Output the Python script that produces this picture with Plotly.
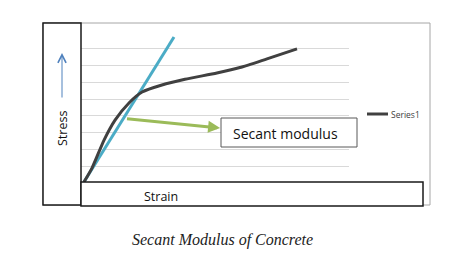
import plotly.graph_objects as go

# Stress-strain curve (arbitrary units)
strain = [0.11, 0.41, 0.86, 1.27, 1.79, 2.28, 3.02, 3.88, 5.07, 5.93, 6.94, 8.06]
stress = [0.06, 0.89, 2.56, 3.75, 4.77, 5.42, 5.84, 6.18, 6.56, 6.88, 7.40, 7.99]

# Secant modulus line
secant_x = [0.11, 3.47]
secant_y = [0.06, 8.70]

# Green pointer arrow (tail -> head)
pointer_tail = (1.66, 3.84)
pointer_head = (5.19, 3.28)

series_name = "Series1"
label_text = "Secant modulus"
xlabel = "Strain"
ylabel = "Stress"
caption = "Secant Modulus of Concrete"

W, H = 474, 257
L, R, T, B = 81, 349, 32, 183   # plot area in pixels


def px(x):
    return (x - L) / (R - L)


def py(y):
    return (B - y) / (B - T)


fig = go.Figure()
fig.add_trace(go.Scatter(
    x=secant_x, y=secant_y, mode="lines",
    line=dict(color="#4bacc6", width=3), showlegend=False, hoverinfo="skip"))
fig.add_trace(go.Scatter(
    x=strain, y=stress, mode="lines", name=series_name,
    line=dict(color="#404040", width=3, shape="spline", smoothing=0.6),
    showlegend=False, hoverinfo="skip"))

shapes = [
    # outer chart border
    dict(type="rect", xref="paper", yref="paper", x0=px(43), x1=px(430), y0=py(205), y1=py(23),
         line=dict(color="#a6a6a6", width=1), fillcolor="rgba(0,0,0,0)", layer="below"),
    # Stress box
    dict(type="rect", xref="paper", yref="paper", x0=px(43), x1=px(81), y0=py(205), y1=py(23),
         line=dict(color="#1a1a1a", width=1.5), fillcolor="white"),
    # Strain box
    dict(type="rect", xref="paper", yref="paper", x0=px(81), x1=px(423), y0=py(206), y1=py(182),
         line=dict(color="#1a1a1a", width=1.5), fillcolor="white"),
    # Secant modulus label box
    dict(type="rect", xref="paper", yref="paper", x0=px(221), x1=px(357), y0=py(147), y1=py(118),
         line=dict(color="#595959", width=1), fillcolor="white"),
    # legend swatch for Series1
    dict(type="line", xref="paper", yref="paper", x0=px(367), x1=px(388), y0=py(114), y1=py(114),
         line=dict(color="#404040", width=3)),
]

annotations = [
    dict(x=pointer_head[0], y=pointer_head[1], xref="x", yref="y",
         ax=pointer_tail[0], ay=pointer_tail[1], axref="x", ayref="y",
         text="", showarrow=True, arrowhead=2, arrowsize=0.8, arrowwidth=3,
         arrowcolor="#9bbb59"),
    dict(x=px(231), y=py(133), xref="paper", yref="paper", text=label_text,
         showarrow=False, xanchor="left", yanchor="middle",
         font=dict(family="Open Sans", size=14, color="#111111")),
    dict(x=px(161), y=py(196), xref="paper", yref="paper", text=xlabel,
         showarrow=False, xanchor="center", yanchor="middle",
         font=dict(family="Open Sans", size=12.5, color="#111111")),
    dict(x=px(62), y=py(129), xref="paper", yref="paper", text=ylabel, textangle=-90,
         showarrow=False, xanchor="center", yanchor="middle",
         font=dict(family="Open Sans", size=12.5, color="#111111")),
    # up arrow next to Stress
    dict(x=px(62), y=py(53), xref="paper", yref="paper", ax=0, ay=46,
         text="", showarrow=True, arrowhead=5, arrowsize=1.6, arrowwidth=1,
         arrowcolor="#4f81bd"),
    # legend text
    dict(x=px(389), y=py(114), xref="paper", yref="paper", text=series_name,
         showarrow=False, xanchor="left", yanchor="middle",
         font=dict(family="Open Sans", size=8.5, color="#404040")),
    dict(x=px(222), y=py(240), xref="paper", yref="paper", text=caption,
         showarrow=False, xanchor="center", yanchor="middle",
         font=dict(family="Liberation Serif", size=16, color="#222222", style="italic")),
]

fig.update_layout(
    width=W, height=H,
    margin=dict(l=L, r=W - R, t=T, b=H - B, pad=0),
    paper_bgcolor="white", plot_bgcolor="white",
    shapes=shapes, annotations=annotations,
    showlegend=False,
    hovermode=False,
)
fig.update_xaxes(range=[0, 10], showgrid=False, zeroline=False, showticklabels=False,
                 ticks="", showline=False, fixedrange=True)
fig.update_yaxes(range=[0, 9], dtick=1, tick0=0, showgrid=True, gridcolor="#d9d9d9", gridwidth=1,
                 zeroline=False, showticklabels=False, ticks="", showline=False, fixedrange=True)

fig.write_html("out.html", config={"displayModeBar": False, "staticPlot": True})
